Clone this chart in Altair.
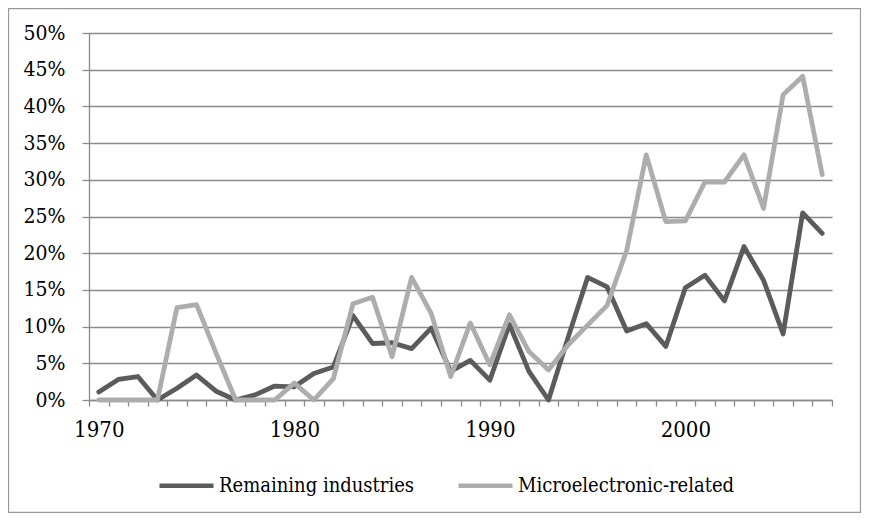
import altair as alt
import pandas as pd

years = list(range(1970, 2008))
remaining = [1.1, 2.8, 3.2, 0.0, 1.6, 3.4, 1.2, 0.0, 0.7, 1.9,
             1.8, 3.6, 4.5, 11.5, 7.7, 7.8, 7.0, 9.8, 3.9, 5.4,
             2.7, 10.3, 3.9, 0.0, 8.5, 16.7, 15.4, 9.4, 10.4, 7.3,
             15.3, 17.0, 13.5, 20.9, 16.3, 9.0, 25.5, 22.7]
micro = [0.0, 0.0, 0.0, 0.0, 12.6, 13.0, 6.4, 0.0, 0.0, 0.0,
         2.3, 0.0, 2.9, 13.1, 14.0, 5.9, 16.7, 11.8, 3.2, 10.5,
         4.8, 11.6, 6.6, 4.1, 7.5, 10.2, 12.9, 20.4, 33.4, 24.3,
         24.4, 29.7, 29.7, 33.4, 26.1, 41.6, 44.1, 30.7]
series_names = ["Remaining industries", "Microelectronic-related"]
series_colors = ["#5b5b5b", "#adadad"]
y_ticks = [0, 5, 10, 15, 20, 25, 30, 35, 40, 45, 50]
x_ticks = [y - 0.5 for y in years] + [2007.5]

df = pd.DataFrame({
    "year": years * 2,
    "value": remaining + micro,
    "series": [series_names[0]] * len(years) + [series_names[1]] * len(years),
})

W, H = 743, 367
FONT = "DejaVu Serif Condensed"
GRID = "#8a8a8a"

color = alt.Color(
    "series:N",
    scale=alt.Scale(domain=series_names, range=series_colors),
    legend=alt.Legend(
        orient="none", legendX=68, legendY=423, direction="horizontal",
        title=None, symbolType="stroke", symbolSize=2916, symbolStrokeWidth=4.5,
        labelFont=FONT, labelFontSize=20, labelColor="black", labelLimit=500,
        columnPadding=34, labelOffset=3, padding=0,
    ),
)

x = alt.X(
    "year:Q",
    scale=alt.Scale(domain=[1969.5, 2007.5], nice=False, zero=False),
    axis=alt.Axis(
        values=x_ticks, title=None, grid=False,
        labelExpr="(datum.value + 0.5) % 10 == 0 ? toString(datum.value + 0.5) : ''",
        labelOffset=9.78, labelOverlap=False, labelFlush=False, labelBound=False,
        tickSize=6, labelPadding=13, labelFont=FONT, labelFontSize=22, labelColor="black",
        domainColor=GRID, tickColor=GRID, domainWidth=1.3, tickWidth=1.3,
    ),
)
y = alt.Y(
    "value:Q",
    scale=alt.Scale(domain=[0, 50], nice=False),
    axis=alt.Axis(
        values=y_ticks, title=None, labelExpr="datum.value + '%'",
        tickSize=7, labelPadding=17, labelFont=FONT, labelFontSize=21, labelColor="black",
        domainColor=GRID, tickColor=GRID, gridColor=GRID, domainWidth=1.3,
        tickWidth=1.3, gridWidth=1.3,
    ),
)

base = alt.Chart(df)
line_dark = base.transform_filter(alt.datum.series == series_names[0]).mark_line(
    strokeWidth=4.8, strokeCap="round", strokeJoin="round"
).encode(x=x, y=y, color=color)
line_light = base.transform_filter(alt.datum.series == series_names[1]).mark_line(
    strokeWidth=4.8, strokeCap="round", strokeJoin="round"
).encode(x=x, y=y, color=color)

border = alt.Chart(pd.DataFrame({"a": [0]})).mark_rect(
    filled=False, stroke="#999999", strokeWidth=1.3
).encode(
    x=alt.value(-80.5), x2=alt.value(771.5), y=alt.value(-24.5), y2=alt.value(479.5)
)

chart = alt.layer(line_dark, line_light, border).properties(
    width=W, height=H,
    autosize=alt.AutoSizeParams(type="none"),
    padding={"left": 81, "top": 25, "right": 29, "bottom": 113},
).configure_view(stroke=None)

chart.save("out.html", embed_options={"renderer": "svg", "actions": False})
